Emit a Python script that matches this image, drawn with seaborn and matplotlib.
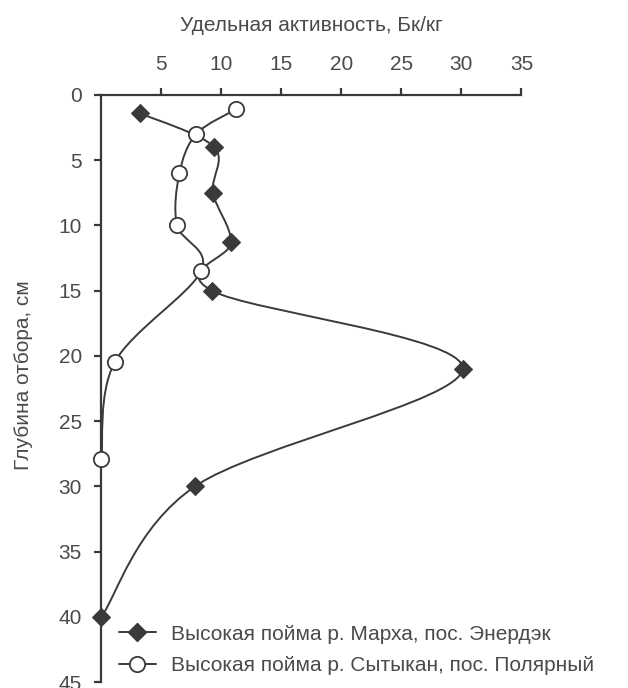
import numpy as np
import seaborn as sns
import matplotlib
matplotlib.use("Agg")
import matplotlib.pyplot as plt
from matplotlib.path import Path
from matplotlib.patches import PathPatch
from matplotlib.lines import Line2D

# values
marha_activity = [3.2, 9.4, 9.3, 10.8, 9.2, 30.1, 7.8, 0.0]
marha_depth = [1.4, 4.0, 7.5, 11.3, 15.0, 21.0, 30.0, 40.0]
sytykan_activity = [11.2, 7.9, 6.5, 6.3, 8.3, 1.1, 0.0]
sytykan_depth = [1.1, 3.0, 6.0, 10.0, 13.5, 20.5, 27.9]

marha_label = "Высокая пойма р. Марха, пос. Энердэк"
sytykan_label = "Высокая пойма р. Сытыкан, пос. Полярный"

x_ticks = [5, 10, 15, 20, 25, 30, 35]
y_ticks = [0, 5, 10, 15, 20, 25, 30, 35, 40, 45]

sns.set_theme(style="white")
plt.rcParams['font.family'] = ['Liberation Sans', 'DejaVu Sans']

ink = '#3a3a3a'
text_col = '#4a4a4a'
fs = 15


def smooth_path(xs, ys):
    """Excel-like smoothed line through the points (cubic Bezier)"""
    pts = np.column_stack([xs, ys]).astype(float)
    n = len(pts)
    verts = [pts[0]]
    codes = [Path.MOVETO]
    for i in range(n - 1):
        p_prev = pts[max(i - 1, 0)]
        p_next2 = pts[min(i + 2, n - 1)]
        c1 = pts[i] + (pts[i + 1] - p_prev) / 6.0
        c2 = pts[i + 1] - (p_next2 - pts[i]) / 6.0
        verts += [c1, c2, pts[i + 1]]
        codes += [Path.CURVE4] * 3
    return Path(verts, codes)


fig = plt.figure(figsize=(6.28, 6.88), dpi=100)
ax = fig.add_axes([0.1615, 0.0087, 0.6688, 0.8533])

for xs, ys in [(marha_activity, marha_depth), (sytykan_activity, sytykan_depth)]:
    ax.add_patch(PathPatch(smooth_path(xs, ys), facecolor='none',
                           edgecolor=ink, linewidth=1.4, zorder=2))

sns.lineplot(x=marha_activity, y=marha_depth, sort=False, ax=ax,
             marker='D', markersize=9, linestyle='', color=ink,
             markerfacecolor=ink, markeredgecolor=ink, clip_on=False, zorder=4)
sns.lineplot(x=sytykan_activity, y=sytykan_depth, sort=False, ax=ax,
             marker='o', markersize=11, linestyle='', color=ink,
             markerfacecolor='white', markeredgecolor=ink, markeredgewidth=1.3,
             clip_on=False, zorder=4)

ax.set_xlim(0, 35)
ax.set_ylim(45, 0)
ax.xaxis.tick_top()
ax.xaxis.set_label_position('top')
ax.set_xticks(x_ticks)
ax.set_yticks(y_ticks)
ax.set_xticklabels([str(t) for t in x_ticks])
ax.set_yticklabels([str(t) for t in y_ticks])

for side in ['right', 'bottom']:
    ax.spines[side].set_visible(False)
for side in ['left', 'top']:
    ax.spines[side].set_color(ink)
    ax.spines[side].set_linewidth(1.6)

ax.tick_params(axis='x', direction='out', length=5, width=1.6, color=ink,
               labelsize=fs, labelcolor=text_col, pad=10, top=True, bottom=False)
ax.tick_params(axis='y', direction='out', length=5, width=1.6, color=ink,
               labelsize=fs, labelcolor=text_col, pad=9, left=True)

ax.set_xlabel("Удельная активность, Бк/кг", fontsize=fs, color=text_col, labelpad=17)
ax.set_ylabel("Глубина отбора, см", fontsize=fs, color=text_col)
ax.yaxis.set_label_coords(-0.164, 0.523)
ax.grid(False)

handles = [
    Line2D([], [], color=ink, linewidth=1.4, marker='D', markersize=9,
           markerfacecolor=ink, markeredgecolor=ink),
    Line2D([], [], color=ink, linewidth=1.4, marker='o', markersize=11,
           markerfacecolor='white', markeredgecolor=ink, markeredgewidth=1.3),
]
leg = ax.legend(handles, [marha_label, sytykan_label], loc='lower left',
                bbox_to_anchor=(0.021, -0.003), frameon=False, fontsize=fs,
                handlelength=1.8, handletextpad=0.72, labelspacing=0.62,
                borderaxespad=0.0)
for t in leg.get_texts():
    t.set_color(text_col)

fig.savefig("out.png", dpi=100)
